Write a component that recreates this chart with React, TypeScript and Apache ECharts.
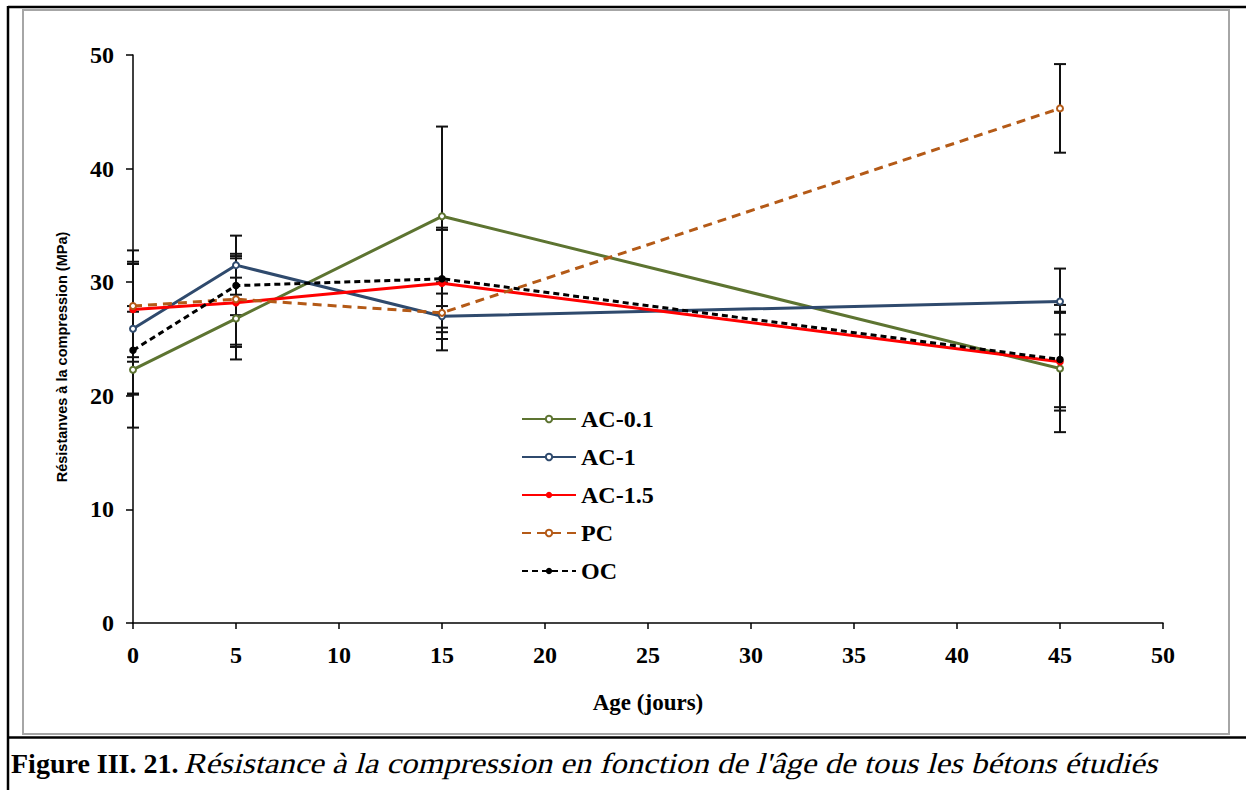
import React, { useEffect, useRef } from "react";
import * as echarts from "echarts";

const ages = [0, 5, 15, 45];
const seriesNames = ["AC-0.1", "AC-1", "AC-1.5", "PC", "OC"];
const ac01 = [22.3, 26.8, 35.8, 22.4];
const ac1 = [25.9, 31.5, 27.0, 28.3];
const ac15 = [27.6, 28.2, 29.9, 23.0];
const pc = [27.9, 28.5, 27.3, 45.3];
const oc = [24.0, 29.7, 30.3, 23.2];
// error bar half-widths (MPa)
const ac01Err = [5.1, 3.6, 7.9, 5.6];
const ac1Err = [5.7, 2.6, 3.0, 2.9];
const ac15Err = [4.2, 3.9, 4.9, 4.3];
const pcErr = [4.9, 4.0, 1.7, 3.9];
const ocErr = [3.9, 2.6, 4.3, 4.2];
const xTicks = [0, 5, 10, 15, 20, 25, 30, 35, 40, 45, 50];
const yTicks = [0, 10, 20, 30, 40, 50];

const serif = "Liberation Serif";
const captionBold = "Figure III. 21.";
const captionItalic = "Résistance à la compression en fonction de l'âge de tous les bétons étudiés";

export default function App() {
  const ref = useRef<HTMLDivElement>(null);
  useEffect(() => {
    if (!ref.current) return;
    const chart = echarts.init(ref.current, null, { renderer: "svg" });
    const values = [ac01, ac1, ac15, pc, oc];
    const errs = [ac01Err, ac1Err, ac15Err, pcErr, ocErr];
    const colors = ["#5d7431", "#2f4a6d", "#ff0000", "#b45a17", "#000000"];
    const lineTypes: any[] = ["solid", "solid", "solid", [9, 6], [6, 4]];
    const symbols = ["emptyCircle", "emptyCircle", "circle", "emptyCircle", "circle"];

    const lineSeries = seriesNames.map((name, i) => ({
      name,
      type: "line",
      data: ages.map((a, j) => [a, values[i][j]]),
      symbol: symbols[i],
      symbolSize: 6,
      color: colors[i],
      lineStyle: { width: 3, type: lineTypes[i], color: colors[i] },
      itemStyle: { color: colors[i], borderColor: colors[i], borderWidth: 1.5 },
      z: 3,
    }));

    const errSeries = seriesNames.map((name, i) => ({
      name: "err-" + name,
      type: "custom",
      data: ages.map((a, j) => [a, values[i][j] - errs[i][j], values[i][j] + errs[i][j]]),
      z: 2,
      renderItem: (params: any, api: any) => {
        const x = api.value(0);
        const lo = api.coord([x, api.value(1)]);
        const hi = api.coord([x, api.value(2)]);
        const hw = 6;
        const st = { stroke: "#111", lineWidth: 2 };
        return {
          type: "group",
          children: [
            { type: "line", shape: { x1: lo[0], y1: lo[1], x2: hi[0], y2: hi[1] }, style: st },
            { type: "line", shape: { x1: lo[0] - hw, y1: lo[1], x2: lo[0] + hw, y2: lo[1] }, style: st },
            { type: "line", shape: { x1: hi[0] - hw, y1: hi[1], x2: hi[0] + hw, y2: hi[1] }, style: st },
          ],
        };
      },
    }));

    chart.setOption({
      animation: false,
      backgroundColor: "#ffffff",
      grid: { left: 133, right: 83, top: 55, bottom: 167 },
      legend: {
        data: seriesNames.map((n) => ({ name: n, itemStyle: { color: colors[seriesNames.indexOf(n)], borderWidth: 0 } })),
        orient: "vertical",
        left: 516,
        top: 402,
        itemWidth: 54,
        itemHeight: 8,
        itemGap: 14,
        textStyle: { fontFamily: serif, fontWeight: "bold", fontSize: 24, color: "#000" },
      },
      xAxis: {
        type: "value",
        min: xTicks[0],
        max: xTicks[xTicks.length - 1],
        interval: 5,
        splitLine: { show: false },
        axisLine: { lineStyle: { color: "#000", width: 1.5 } },
        axisTick: { show: true, length: 6, lineStyle: { color: "#000", width: 1.5 } },
        axisLabel: { fontFamily: serif, fontWeight: "bold", fontSize: 24, color: "#000", margin: 20 },
        name: "Age (jours)",
        nameLocation: "middle",
        nameGap: 68,
        nameTextStyle: { fontFamily: serif, fontWeight: "bold", fontSize: 23, color: "#000" },
      },
      yAxis: {
        type: "value",
        min: yTicks[0],
        max: yTicks[yTicks.length - 1],
        interval: 10,
        splitLine: { show: false },
        axisLine: { show: true, lineStyle: { color: "#000", width: 1.5 } },
        axisTick: { show: true, length: 7, lineStyle: { color: "#000", width: 1.5 } },
        axisLabel: { fontFamily: serif, fontWeight: "bold", fontSize: 24, color: "#000", margin: 19 },
        name: "Résistanves à la compression (MPa)",
        nameLocation: "middle",
        nameGap: 64,
        nameTextStyle: {
          fontFamily: "Liberation Sans",
          fontWeight: "bold",
          fontSize: 14.5,
          color: "#000",
          padding: [0, 36, 0, 0],
        },
      },
      graphic: [
        { type: "rect", shape: { x: 23, y: 10, width: 1206, height: 724 }, style: { fill: "none", stroke: "#a6a6a6", lineWidth: 2 }, z: -1 },
        { type: "line", shape: { x1: 8, y1: 7, x2: 1246, y2: 7 }, style: { stroke: "#000", lineWidth: 2.5 } },
        { type: "line", shape: { x1: 8, y1: 6, x2: 8, y2: 790 }, style: { stroke: "#000", lineWidth: 2.5 } },
        { type: "line", shape: { x1: 8, y1: 737.5, x2: 1246, y2: 737.5 }, style: { stroke: "#000", lineWidth: 2.5 } },
        {
          type: "text",
          x: 11,
          y: 763,
          style: {
            text: captionBold,
            verticalAlign: "middle",
            fontFamily: serif,
            fontWeight: "bold",
            fontSize: 28,
            fill: "#000",
          },
        },
        {
          type: "text",
          x: 186,
          y: 763,
          scaleX: 1.13,
          style: {
            text: captionItalic,
            verticalAlign: "middle",
            fontFamily: serif,
            fontWeight: "normal",
            fontSize: 29,
            fill: "#000",
          },
        },
      ],
      series: [...errSeries, ...lineSeries],
    });

    // slant the caption text (no italic face of the serif font is installed)
    const texts = ref.current.querySelectorAll("text");
    texts.forEach((t) => {
      if ((t.textContent || "").indexOf("Résistance à la") === 0) {
        const tr = t.getAttribute("transform") || "";
        t.setAttribute("transform", (tr + " skewX(-13)").trim());
      }
    });
    return () => chart.dispose();
  }, []);
  return <div ref={ref} style={{ position: "absolute", left: 0, top: 0, width: 1246, height: 790 }} />;
}
